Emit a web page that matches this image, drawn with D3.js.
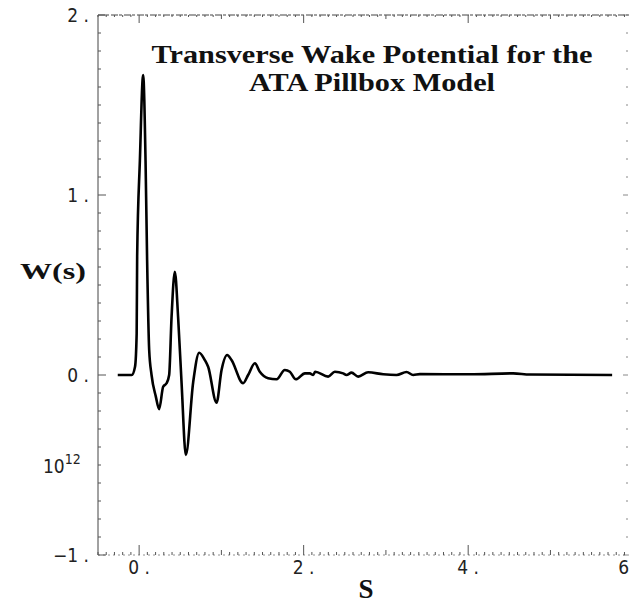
<!DOCTYPE html>
<html>
<head>
<meta charset="utf-8">
<script src="https://cdn.jsdelivr.net/npm/d3@7"></script>
<style>
  body { margin: 0; background: #fff; }
  .tick-label { font-family: 'Liberation Sans Narrow', 'DejaVu Sans Condensed', 'Liberation Sans', sans-serif; font-size: 19px; fill: #222; }
  .serif-bold { font-family: 'Liberation Serif', 'DejaVu Serif', serif; font-weight: bold; fill: #111; }
</style>
</head>
<body>
<div id="chart"></div>
<script>
// wake potential (s, W in units of 10^12)
const sVals = [-0.26, -0.09, -0.05, -0.03, -0.024, 0.009, 0.049, 0.078, 0.097, 0.122, 0.151, 0.203, 0.243,
  0.292, 0.333, 0.365, 0.394, 0.434, 0.474, 0.516, 0.568, 0.657, 0.73, 0.799, 0.839, 0.941, 1.002, 1.07,
  1.123, 1.264, 1.325, 1.407, 1.467, 1.568, 1.671, 1.771, 1.832, 1.905, 2.015, 2.075, 2.116, 2.14, 2.298,
  2.379, 2.48, 2.521, 2.582, 2.663, 2.784, 2.967, 3.129, 3.251, 3.331, 3.413, 4.021, 4.547, 4.75, 5.75];
const wVals = [0, 0, 0.046, 0.23, 0.66, 1.19, 1.667, 1.19, 0.64, 0.14, 0, -0.12, -0.19,
  -0.065, -0.046, 0, 0.32, 0.574, 0.32, -0.045, -0.444, -0.04, 0.124, 0.083, 0.046, -0.154, 0.028, 0.111,
  0.083, -0.046, 0, 0.065, 0.018, -0.018, -0.024, 0.028, 0.018, -0.024, 0.009, 0.009, 0, 0.018, -0.009,
  0.018, 0.009, 0, 0.013, -0.009, 0.015, 0.004, 0, 0.017, 0, 0.005, 0.004, 0.009, 0.003, 0];

const xTicks = [0, 2, 4, 6];
const xTickLabels = ['0 .', '2 .', '4 .', '6'];
const yTicks = [2, 1, 0, -1];
const yTickLabels = ['2 .', '1 .', '0 .', '\u22121 .'];
const titleLines = ['Transverse Wake Potential for the', 'ATA Pillbox Model'];

const width = 631;
const height = 609;
const plot = { l: 98, r: 629, t: 15, b: 555 };

const svg = d3.select('#chart').append('svg')
  .attr('width', width)
  .attr('height', height);

const x = d3.scaleLinear().domain([-0.5, 5.955]).range([plot.l, plot.r]);
const y = d3.scaleLinear().domain([-1, 2]).range([plot.b, plot.t]);

// frame, drawn rough like the scanned original
const frame = svg.append('g').attr('stroke', '#444').attr('fill', 'none');
frame.append('line').attr('x1', plot.l).attr('x2', plot.l).attr('y1', plot.t).attr('y2', plot.b)
  .attr('stroke-width', 1);
frame.append('line').attr('x1', plot.l).attr('x2', plot.r).attr('y1', plot.t).attr('y2', plot.t)
  .attr('stroke-width', 1).attr('stroke-dasharray', '7,1,3,2');
frame.append('line').attr('x1', plot.l).attr('x2', plot.r).attr('y1', plot.b).attr('y2', plot.b)
  .attr('stroke-width', 0.8).attr('stroke-dasharray', '2,3').attr('stroke', '#777');

// minor/major ticks pointing inward
const yMinor = d3.range(-1, 2.001, 0.1);
const xMinor = d3.range(-0.5, 5.951, 0.1);
const isInt = (v) => Math.abs(v - Math.round(v)) < 1e-6;
const ticks = svg.append('g').attr('stroke', '#555').attr('stroke-width', 1);
ticks.selectAll('.yl').data(yMinor).join('line')
  .attr('x1', plot.l).attr('x2', (d) => plot.l + (isInt(d) ? 8 : 3))
  .attr('y1', (d) => y(d)).attr('y2', (d) => y(d));
ticks.selectAll('.yr').data(yMinor).join('line')
  .attr('x1', plot.r - 1).attr('x2', (d) => plot.r - 1 - (isInt(d) ? 5 : 2))
  .attr('y1', (d) => y(d)).attr('y2', (d) => y(d))
  .attr('stroke', '#888');
ticks.selectAll('.xb').data(xMinor).join('line')
  .attr('x1', (d) => x(d)).attr('x2', (d) => x(d))
  .attr('y1', plot.b).attr('y2', (d) => plot.b - (isInt(d) && Math.round(d) % 2 === 0 ? 10 : (isInt(d) ? 5 : 3)));
ticks.selectAll('.xt').data(xMinor).join('line')
  .attr('x1', (d) => x(d)).attr('x2', (d) => x(d))
  .attr('y1', plot.t).attr('y2', (d) => plot.t + (isInt(d) && Math.round(d) % 2 === 0 ? 8 : (isInt(d) ? 4 : 2)));

// tick labels (the last one sits against the right edge)
svg.selectAll('.xlab').data(xTicks).join('text')
  .attr('class', 'tick-label')
  .attr('x', (d, i) => (i === xTicks.length - 1 ? width - 2 : x(d)))
  .attr('y', plot.b + 19)
  .attr('text-anchor', (d, i) => (i === xTicks.length - 1 ? 'end' : 'middle'))
  .text((d, i) => xTickLabels[i]);
svg.selectAll('.ylab').data(yTicks).join('text')
  .attr('class', 'tick-label')
  .attr('x', plot.l - 9)
  .attr('y', (d) => y(d) + 7)
  .attr('text-anchor', 'end')
  .text((d, i) => yTickLabels[i]);

// scale factor 10^12
const sf = svg.append('text').attr('class', 'tick-label')
  .attr('x', 43).attr('y', y(-0.5) + 8);
sf.append('tspan').text('10');
sf.append('tspan').attr('dy', -9).style('font-size', '14px').text('12');

// axis names
svg.append('text').attr('class', 'serif-bold')
  .attr('x', 20).attr('y', 279)
  .style('font-size', '23px')
  .attr('textLength', 66).attr('lengthAdjust', 'spacingAndGlyphs')
  .text('W(s)');
svg.append('text').attr('class', 'serif-bold')
  .attr('x', 366).attr('y', 598)
  .attr('text-anchor', 'middle')
  .style('font-size', '27px')
  .text('S');

// title
const titleWidths = [441, 246];
svg.selectAll('.title').data(titleLines).join('text')
  .attr('class', 'serif-bold')
  .attr('x', 372)
  .attr('y', (d, i) => 63 + i * 28)
  .attr('text-anchor', 'middle')
  .style('font-size', '25px')
  .attr('textLength', (d, i) => titleWidths[i])
  .attr('lengthAdjust', 'spacingAndGlyphs')
  .text((d) => d);

// the curve
const data = sVals.map((s, i) => ({ s, w: wVals[i] }));
const line = d3.line()
  .x((d) => x(d.s))
  .y((d) => y(d.w))
  .curve(d3.curveMonotoneX);
svg.append('path')
  .datum(data)
  .attr('d', line)
  .attr('fill', 'none')
  .attr('stroke', '#000')
  .attr('stroke-width', 2.6)
  .attr('stroke-linejoin', 'round');
</script>
</body>
</html>
